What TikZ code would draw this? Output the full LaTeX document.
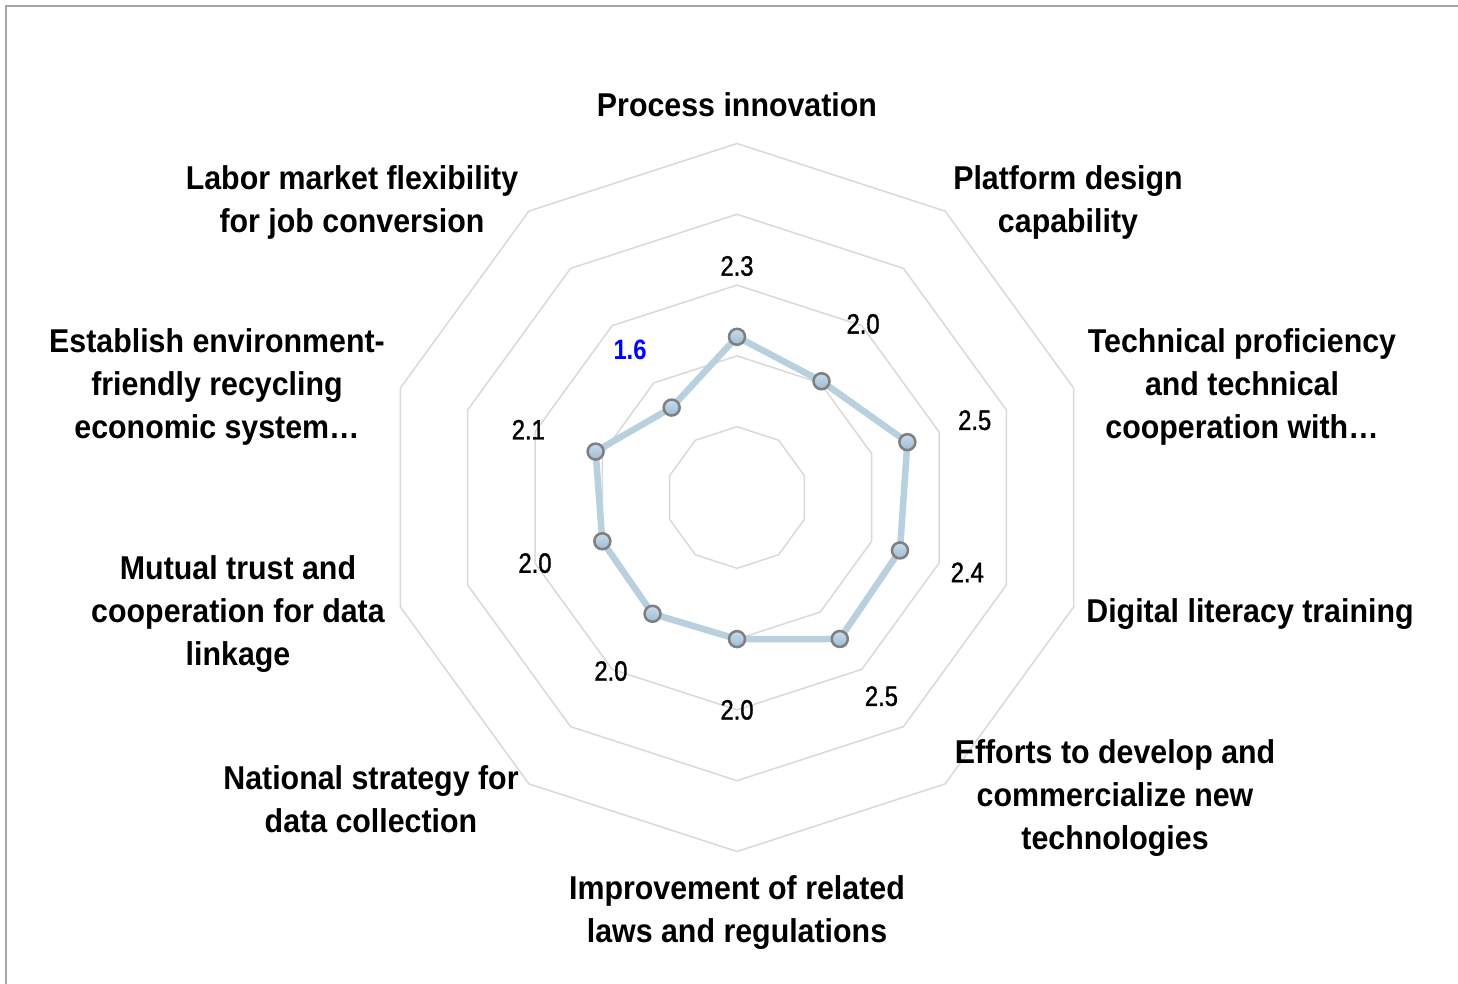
\documentclass[tikz,border=0pt]{standalone}
\usepackage{fontspec}
\setmainfont{Liberation Sans}
\newfontfamily\lblfont{Liberation Sans}[FakeStretch=0.92]
\newfontfamily\numfont{Liberation Sans}[FakeStretch=0.85,FakeBold=1.2]
\newfontfamily\numboldfont{Liberation Sans Bold}[FakeStretch=0.85]
\usetikzlibrary{calc}
\definecolor{gridc}{HTML}{D9D9D9}
\definecolor{serc}{HTML}{B9D0DF}
\definecolor{markb}{HTML}{7F7F7F}
\definecolor{markt}{HTML}{C9DCEA}
\definecolor{markd}{HTML}{9DBCD4}
\definecolor{framec}{HTML}{A6A6A6}
\definecolor{bluelbl}{HTML}{0000FF}
\begin{document}
\begin{tikzpicture}[x=1pt,y=1pt,
  gridline/.style={draw=gridc,line width=1.5pt,line join=miter},
  series/.style={draw=serc,line width=6.5pt,line join=round},
  marker/.style={circle,draw=markb,line width=2.5pt,top color=markt,bottom color=markd,minimum size=16pt,inner sep=0pt},
  axislbl/.style={font=\lblfont\bfseries\fontsize{33}{43}\selectfont,align=center,inner sep=0pt},
  vallbl/.style={font=\numfont\fontsize{28}{32}\selectfont,inner sep=0pt},
  framebox/.style={draw=framec,line width=2pt}]
\useasboundingbox (0,0) rectangle (1458,-984);
\fill[white] (0,0) rectangle (1458,-984);
% frame
\coordinate (f1) at (1470,-6);
\coordinate (f2) at (6,-6);
\coordinate (f3) at (6,-1000);
\draw[framebox] (f1) -- (f2) -- (f3);
% centre
\coordinate (C) at (737,-497.5);
% grid rings
\foreach \k in {1,...,5}{
  \draw[gridline] ($(C)+(90:{70.8*\k})$)
    -- ($(C)+(54:{70.8*\k})$) -- ($(C)+(18:{70.8*\k})$)
    -- ($(C)+(-18:{70.8*\k})$) -- ($(C)+(-54:{70.8*\k})$)
    -- ($(C)+(-90:{70.8*\k})$) -- ($(C)+(-126:{70.8*\k})$)
    -- ($(C)+(-162:{70.8*\k})$) -- ($(C)+(-198:{70.8*\k})$)
    -- ($(C)+(-234:{70.8*\k})$) -- cycle;
}
% data positions
\foreach \v [count=\i from 0] in {2.27,2.03,2.53,2.42,2.47,2.0,2.03,2.0,2.1,1.57}{
  \coordinate (p\i) at ($(C)+({90-36*\i}:{70.8*\v})$);
  \coordinate (q\i) at ($(C)+({90-36*\i}:{70.8*(\v+1)})$);
}
\draw[series] (p0) -- (p1) -- (p2) -- (p3) -- (p4) -- (p5) -- (p6) -- (p7) -- (p8) -- (p9) -- cycle;
\foreach \i in {0,...,9}{
  \node[marker] (m\i) at (p\i) {};
}
% value labels
\foreach \t [count=\i from 0] in {2.3,2.0,2.5,2.4,2.5,2.0,2.0,2.0,2.1}{
  \node[vallbl] (v\i) at (q\i) {\t};
}
\node[vallbl,font=\numboldfont\fontsize{28}{32}\selectfont,text=bluelbl] (v9) at (q9) {1.6};
% axis labels
\node[axislbl] (a0) at (737,-105) {Process innovation};
\node[axislbl] (a1) at (1068,-202.5) {Platform design\\capability};
\node[axislbl] (a2) at (1242,-387) {Technical proficiency\\and technical\\cooperation with…};
\node[axislbl] (a3) at (1250,-614) {Digital literacy training};
\node[axislbl] (a4) at (1115,-798) {Efforts to develop and\\commercialize new\\technologies};
\node[axislbl] (a5) at (737,-912.5) {Improvement of related\\laws and regulations};
\node[axislbl] (a6) at (371,-799) {National strategy for\\data collection};
\node[axislbl] (a7) at (238,-614) {Mutual trust and\\cooperation for data\\linkage};
\node[axislbl] (a8) at (217,-387) {Establish environment-\\friendly recycling\\economic system…};
\node[axislbl] (a9) at (352,-202) {Labor market flexibility\\for job conversion};
\end{tikzpicture}
\end{document}
